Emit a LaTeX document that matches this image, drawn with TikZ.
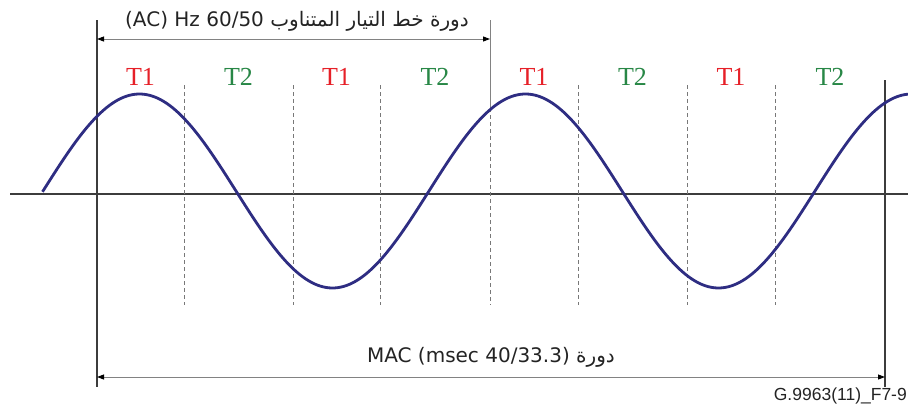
\documentclass[tikz,border=0pt]{standalone}
\usepackage{fontspec}
\setmainfont{Liberation Serif}
\newfontfamily\arabicfont[Script=Arabic]{DejaVu Sans}
\newfontfamily\latinsans{DejaVu Sans}
\newfontfamily\figsans{Liberation Sans}
\TeXXeTstate=1
\usetikzlibrary{arrows.meta}
\definecolor{wavecol}{RGB}{46,45,130}
\definecolor{axiscol}{RGB}{60,60,60}
\definecolor{dimcol}{RGB}{130,130,130}
\definecolor{sepcol}{RGB}{120,120,120}
\definecolor{tonecol}{RGB}{230,32,40}
\definecolor{ttwocol}{RGB}{40,135,70}
\definecolor{txtcol}{RGB}{35,35,35}
\begin{document}
\begin{tikzpicture}[x=1pt,y=-1pt,
  wave/.style={draw=wavecol, line width=2.8pt},
  axisline/.style={draw=axiscol, line width=1.4pt},
  barline/.style={draw=axiscol, line width=1.3pt},
  thinbar/.style={draw=dimcol, line width=1pt},
  dimline/.style={draw=dimcol, line width=0.9pt,
    {Triangle[length=7pt,width=5pt,color=black]}-{Triangle[length=7pt,width=5pt,color=black]}},
  sepline/.style={draw=sepcol, line width=0.9pt, dash pattern=on 4pt off 3pt},
  tlab/.style={font=\fontsize{26}{28}\selectfont, inner sep=0pt},
  tone/.style={tlab, text=tonecol},
  ttwo/.style={tlab, text=ttwocol},
  arlab/.style={font=\arabicfont\fontsize{20}{22}\selectfont, text=txtcol, inner sep=0pt},
  figlab/.style={font=\figsans\fontsize{17.5}{19}\selectfont, text=txtcol, inner sep=0pt}
]
\useasboundingbox (0,0) rectangle (908,410);
% coordinates
\coordinate (axL) at (10,194);
\coordinate (axR) at (908,194);
\coordinate (lbTop) at (97,20);
\coordinate (lbBot) at (97,387);
\coordinate (rbTop) at (885,80);
\coordinate (rbBot) at (885,387);
\coordinate (mbTop) at (490,20);
\coordinate (mbMid) at (490,108);
\coordinate (mbBot) at (490,305);
\coordinate (topL) at (97,39);
\coordinate (topR) at (490,39);
\coordinate (botL) at (97,377);
\coordinate (botR) at (885,377);
% axis
\draw[axisline] (axL) -- (axR);
% separators
\foreach \sx/\nm in {184/a,293/b,380/c,578/d,687/e,775/f}{
  \coordinate (s\nm t) at (\sx,85);
  \coordinate (s\nm b) at (\sx,305);
  \draw[sepline] (s\nm t) -- (s\nm b);
}
\draw[sepline] (mbMid) -- (mbBot);
% bars
\draw[barline] (lbTop) -- (lbBot);
\draw[barline] (rbTop) -- (rbBot);
\draw[thinbar] (mbTop) -- (mbMid);
% wave
\draw[wave] plot[domain=42.5:908, samples=300, smooth] (\x, {191 - 97*sin(((\x-43)/386)*360)});
% dimension arrows
\draw[dimline] (topL) -- (topR);
\draw[dimline] (botL) -- (botR);
% labels
\node[arlab] (toplab) at (297,21) {\beginR دورة خط التيار المتناوب \beginL\latinsans(AC) Hz 60/50\endL\endR};
\node[arlab] (botlab) at (491,357) {\beginR دورة \beginL\latinsans MAC (msec 40/33.3)\endL\endR};
\node[figlab, anchor=east] (figid) at (907,396) {G.9963(11)\_F7-9};
\node[tone] (ta) at (140.5,77) {T1};
\node[ttwo] (tb) at (238.5,77) {T2};
\node[tone] (tc) at (336.5,77) {T1};
\node[ttwo] (td) at (435,77) {T2};
\node[tone] (te) at (534,77) {T1};
\node[ttwo] (tf) at (632.5,77) {T2};
\node[tone] (tg) at (731,77) {T1};
\node[ttwo] (th) at (830,77) {T2};
\end{tikzpicture}
\end{document}
